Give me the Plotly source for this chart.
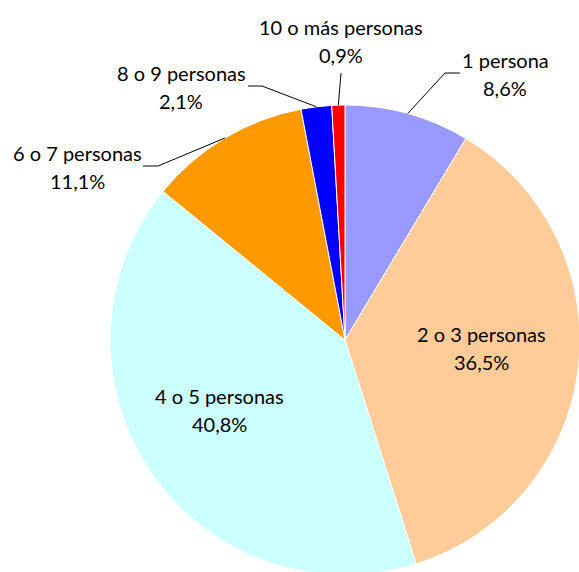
import math
import plotly.graph_objects as go

categories = ["1 persona", "2 o 3 personas", "4 o 5 personas", "6 o 7 personas",
              "8 o 9 personas", "10 o más personas"]
shares = [8.6, 36.5, 40.8, 11.1, 2.1, 0.9]
colors = ["#9999FF", "#FFCC99", "#CCFFFF", "#FF9900", "#0000FF", "#FF0000"]

W, H = 580, 576
CX, CY, R = 345, 340, 235

fig = go.Figure(go.Pie(
    labels=categories, values=shares, sort=False, direction="clockwise",
    rotation=0, textinfo="none", hoverinfo="label+percent",
    marker=dict(colors=colors, line=dict(color="white", width=1)),
    domain=dict(x=[(CX - R) / W, min(1, (CX + R) / W)],
                y=[max(0, 1 - (CY + R) / H), 1 - (CY - R) / H]),
    showlegend=False,
))

def px(x, y):
    return x / W, 1 - y / H

# label placement: (label center x, center y of first line, kind, elbow point, line end)
label_pos = {
    "1 persona": (505, 60, "out", (445, 73), (460, 73)),
    "2 o 3 personas": (481, 334, "in", None, None),
    "4 o 5 personas": (219, 396, "in", None, None),
    "6 o 7 personas": (77, 153, "out", (158, 166), (143, 166)),
    "8 o 9 personas": (181, 73, "out", (262, 86), (248, 86)),
    "10 o más personas": (341, 27, "out", (341, 73), None),
}

total = sum(shares)
cum = 0.0
annotations = []
shapes = []
for cat, v in zip(categories, shares):
    mid = (cum + v / 2) / total * 2 * math.pi
    cum += v
    lx, ly, kind, elbow, end = label_pos[cat]
    pct = f"{v:.1f}%".replace(".", ",")
    for i, t in enumerate([cat, pct]):
        x, y = px(lx, ly + i * 28)
        annotations.append(dict(x=x, y=y, xref="paper", yref="paper", text=t,
                                showarrow=False, xanchor="center", yanchor="middle",
                                font=dict(family="Lato, Open Sans, sans-serif", size=20, color="#000")))
    if kind == "out":
        ex = CX + R * math.sin(mid)
        ey = CY - R * math.cos(mid)
        pts = [(ex, ey), elbow] + ([end] if end else [])
        path = "M " + " L ".join(f"{px(a, b)[0]},{px(a, b)[1]}" for a, b in pts)
        shapes.append(dict(type="path", path=path, xref="paper", yref="paper",
                           line=dict(color="#000", width=1)))

fig.update_layout(width=W, height=H, margin=dict(l=0, r=0, t=0, b=0),
                  paper_bgcolor="white", plot_bgcolor="white",
                  annotations=annotations, shapes=shapes)
fig.write_html("out.html", config={"displayModeBar": False},
               post_script="document.body.style.margin='0';document.body.style.overflow='hidden';")
